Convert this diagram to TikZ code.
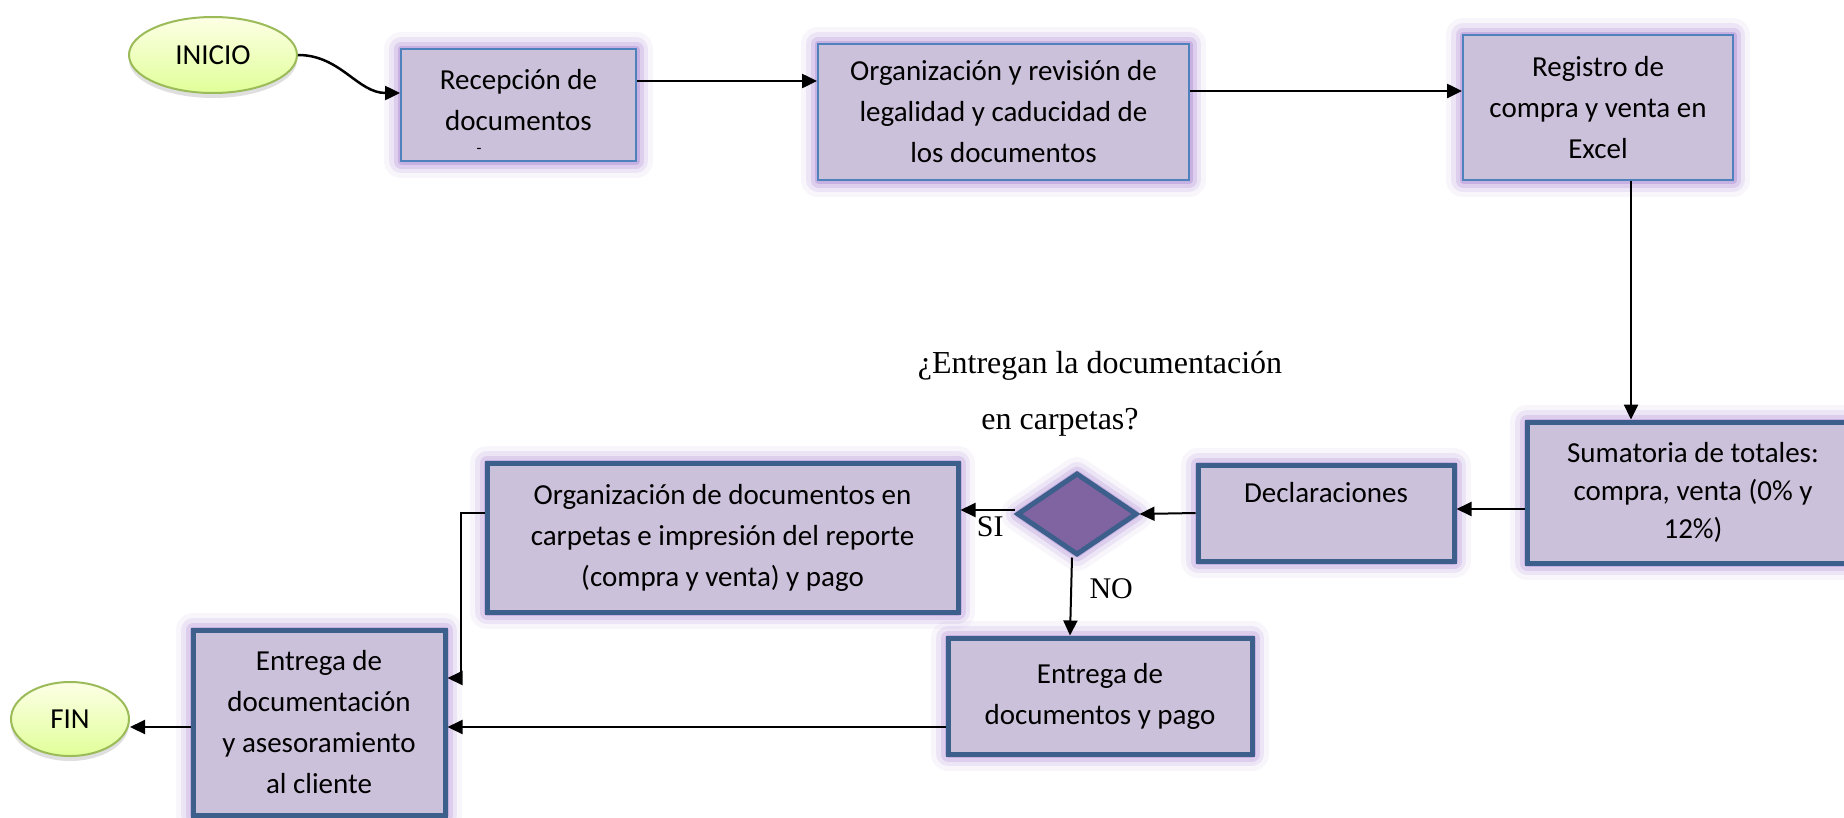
\documentclass[tikz,border=0pt]{standalone}
\usepackage{fontspec}
\setmainfont{Carlito}
\newfontfamily\timesfont{Liberation Serif}
\usetikzlibrary{arrows.meta,shapes.geometric,shadows}

\definecolor{boxfill}{HTML}{CCC1DA}
\definecolor{thinblue}{HTML}{4F81BD}
\definecolor{darkblue}{HTML}{3D5F8B}
\definecolor{glowpurple}{HTML}{A987D2}
\definecolor{diafill}{HTML}{8064A2}
\definecolor{startgreen}{HTML}{9BBB59}

\tikzset{
  glow/.style={preaction={draw=glowpurple, line join=round, line width=34pt, opacity=0.08},
               preaction={draw=glowpurple, line join=round, line width=24pt, opacity=0.15},
               preaction={draw=glowpurple, line join=round, line width=15pt, opacity=0.25},
               preaction={draw=glowpurple, line join=round, line width=7pt, opacity=0.4}},
  stepbox/.style={rectangle, glow, fill=boxfill, draw=thinblue, line width=2pt,
                  inner sep=0pt, align=center, font=\fontsize{29}{41}\selectfont},
  thickbox/.style={stepbox, draw=darkblue, line width=5pt},
  terminal/.style={ellipse, draw=startgreen, line width=2pt, inner sep=0pt,
                   top color=green!8!yellow!10, bottom color=green!30!yellow!40,
                   drop shadow={opacity=0.25, shadow xshift=0pt, shadow yshift=-5pt},
                   font=\fontsize{29}{35}\selectfont},
  arr/.style={-{Triangle[length=15pt,width=14pt]}, line width=2.5pt},
  answer/.style={font=\timesfont\fontsize{30}{36}\selectfont},
}

\begin{document}
\begin{tikzpicture}[x=1pt, y=-1pt]
  \useasboundingbox (0,0) rectangle (1844,817);

  % top row
  \node[terminal, minimum width=168pt, minimum height=76pt] (inicio) at (213,55) {INICIO};
  \node[stepbox, minimum width=235pt, minimum height=112pt] (rec) at (518.5,105) {Recepción de\\documentos\\[-31pt]~};
  \node[font=\fontsize{16}{18}\selectfont] (recdash) at (479,151) {-};
  \node[stepbox, minimum width=371pt, minimum height=136pt] (org) at (1003.5,112)
       {Organización y revisión de\\legalidad y caducidad de\\los documentos};
  \node[stepbox, minimum width=270pt, minimum height=145pt] (reg) at (1598,107.5)
       {Registro de\\compra y venta en\\Excel};

  % middle row
  \node[thickbox, minimum width=332pt, minimum height=141pt, font=\fontsize{29}{38}\selectfont] (sum) at (1693,492.5)
       {Sumatoria de totales:\\compra, venta (0\% y\\12\%)};
  \node[thickbox, minimum width=256pt, minimum height=96pt] (decl) at (1326,513) {Declaraciones\\~};
  \node[diamond, glow, fill=diafill, draw=darkblue, line width=5pt, inner sep=0pt,
        minimum width=120pt, minimum height=82pt] (dia) at (1077,514) {};
  \node[font=\timesfont\fontsize{32}{38}\selectfont] (q1) at (1100,366) {¿Entregan la documentación};
  \node[font=\timesfont\fontsize{32}{38}\selectfont] (q2) at (1060,422) {en carpetas?};
  \node[thickbox, minimum width=471pt, minimum height=149pt] (orgdoc) at (722.5,537.5)
       {Organización de documentos en\\carpetas e impresión del reporte\\(compra y venta) y pago};

  % bottom row
  \node[thickbox, minimum width=304pt, minimum height=116pt] (pago) at (1100,696)
       {Entrega de\\documentos y pago};
  \node[thickbox, minimum width=252pt, minimum height=185pt] (entdoc) at (319,722.5)
       {Entrega de\\documentación\\y asesoramiento\\al cliente};
  \node[terminal, minimum width=118pt, minimum height=74pt] (fin) at (70,719) {FIN};

  % connectors
  \draw[arr] (inicio.east) to[out=0, in=180] ([yshift=12pt]rec.west);
  \draw[arr] (rec.east |- 0,81) -- (org.west |- 0,81);
  \draw[arr] (org.east |- 0,91) -- (reg.west |- 0,91);
  \draw[arr] (reg.south -| 1631,0) -- (sum.north -| 1631,0);
  \draw[arr, line width=2pt] (sum.west |- 0,509) -- (decl.east |- 0,509);
  \draw[arr, line width=2pt] (decl.west |- 0,513) -- (dia.east);
  \draw[arr, line width=2pt] (dia.west |- 0,510) -- (orgdoc.east |- 0,510)
       node[answer, pos=0.45, below=2pt] (si) {SI};
  \draw[arr, line width=2pt] (dia.south -| 1072,0) -- (pago.north -| 1070,0)
       node[answer, pos=0.4, right=14pt] (no) {NO};
  \draw[arr, line width=2pt] (orgdoc.west |- 0,513) -- ++(-24,0) |- (entdoc.east |- 0,678);
  \draw[arr, line width=2pt] (pago.west |- 0,727) -- (entdoc.east |- 0,727);
  \draw[arr, line width=2pt] (entdoc.west |- 0,727) -- (fin.east |- 0,727);
\end{tikzpicture}
\end{document}
